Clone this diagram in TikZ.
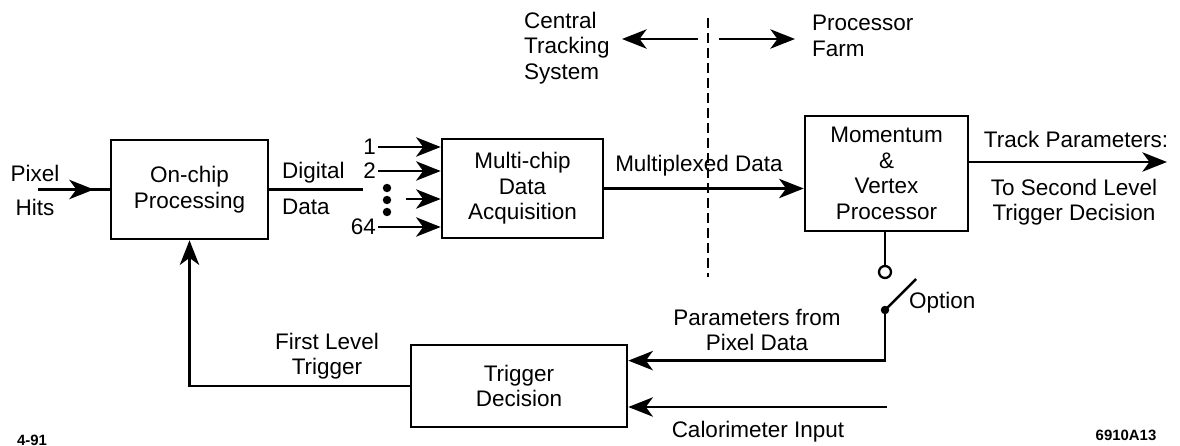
\documentclass[tikz,border=0pt]{standalone}
\usepackage{fontspec}
\setmainfont{Liberation Sans}
\usetikzlibrary{arrows.meta,positioning,calc,decorations.markings}

\begin{document}
\begin{tikzpicture}[x=0.02cm, y=-0.02cm,
  font=\fontsize{12.8}{14.5}\selectfont,
  every node/.style={inner sep=1pt},
  box/.style={draw, line width=1.5pt, align=center, inner sep=0pt},
  wire/.style={line width=1.4pt},
  arr/.style={wire, -{Stealth[length=14pt, width=11pt, inset=4pt]}},
  midarr/.style={wire, decoration={markings, mark=at position 0.78 with {\arrow{Stealth[length=14pt, width=11pt, inset=4pt]}}}, postaction={decorate}},
  small/.style={font=\fontsize{8.5}{10}\selectfont\bfseries}]
\useasboundingbox (0,0) rectangle (1180,446);
% --- blocks ---
\node[box, minimum width=3.14cm, minimum height=1.98cm] (onchip) at (189.5,189.5) {On-chip\\Processing};
\node[box, minimum width=3.22cm, minimum height=1.98cm] (mcda) at (522.5,188.5) {Multi-chip\\Data\\Acquisition};
\node[box, minimum width=3.26cm, minimum height=2.30cm] (mvp) at (886.5,173.5) {Momentum\\\&\\Vertex\\Processor};
\node[box, minimum width=4.32cm, minimum height=1.64cm] (trig) at (519,386) {Trigger\\Decision};
% --- pixel hits in ---
\node (pixel) at (35,173) {Pixel};
\node (hits) at (35,207) {Hits};
\coordinate (hitsin) at (38,189.5);
\draw[midarr] (hitsin) -- (onchip.west);
% --- digital data out, 64 channels in ---
\coordinate (ddend) at (363,189.5);
\draw[wire] (onchip.east) -- (ddend);
\node[anchor=west] (digital) at (280,173) {Digital};
\node[anchor=west] (ddata) at (280,207) {Data};
\node[anchor=east] (in1) at (378,147) {1};
\node[anchor=east] (in2) at (378,171) {2};
\node[anchor=east] (in64) at (378,227) {64};
\foreach \n in {in1,in2,in64}
  \draw[arr] (\n.east) -- (\n.east -| mcda.west);
\foreach \y in {188,200,212}
  \fill (387,\y) circle (2.4pt);
\coordinate (dotsin) at (406,199);
\draw[arr] (dotsin) -- (dotsin -| mcda.west);
% --- multiplexed data ---
\draw[arr] (mcda.east) -- (mcda.east -| mvp.west);
\node (mux) at (699,166) {Multiplexed Data};
% --- track parameters out ---
\coordinate (trackout) at (1167,162);
\draw[arr] (mvp.east |- trackout) -- (trackout);
\node (track) at (1076,139) {Track Parameters:};
\node[align=center] (second) at (1074,202) {To Second Level\\Trigger Decision};
% --- system boundary ---
\node[anchor=west, align=left] (cts) at (522,48) {Central\\Tracking\\System};
\node[anchor=west, align=left] (farm) at (810,36) {Processor\\Farm};
\coordinate (splitL) at (698,39);
\coordinate (splitR) at (719,39);
\coordinate (tipL) at (622,39);
\coordinate (tipR) at (795,39);
\draw[arr] (splitL) -- (tipL);
\draw[arr] (splitR) -- (tipR);
\coordinate (cuttop) at (708,18);
\coordinate (cutbot) at (708,277);
\draw[line width=1.4pt, dash pattern=on 0.2cm off 0.1cm] (cuttop) -- (cutbot);
% --- option switch ---
\node[circle, draw, line width=1.3pt, minimum size=0.24cm, inner sep=0pt] (swo) at (885,272) {};
\draw[wire] (swo.north |- mvp.south) -- (swo.north);
\node[circle, fill, minimum size=0.17cm, inner sep=0pt] (swc) at (885,310) {};
\coordinate (lever) at (916,279);
\draw[wire] (swc.center) -- (lever);
\node[anchor=west] (opt) at (907,303) {Option};
% --- trigger decision inputs ---
\draw[arr] (swc.center) |- ($(trig.north east)!0.2!(trig.south east)$);
\node[align=center] (pfp) at (757,330) {Parameters from\\Pixel Data};
\coordinate (calin) at (887,407);
\draw[arr] (calin) -- (calin -| trig.east);
\node (cal) at (758,432) {Calorimeter Input};
% --- first level trigger back ---
\draw[arr] (trig.west) -| (onchip.south);
\node[align=center] (flt) at (327,356) {First Level\\Trigger};
% --- tags ---
\node[small] (date) at (32,440) {4-91};
\node[small] (fig) at (1126,435) {6910A13};
\end{tikzpicture}
\end{document}
